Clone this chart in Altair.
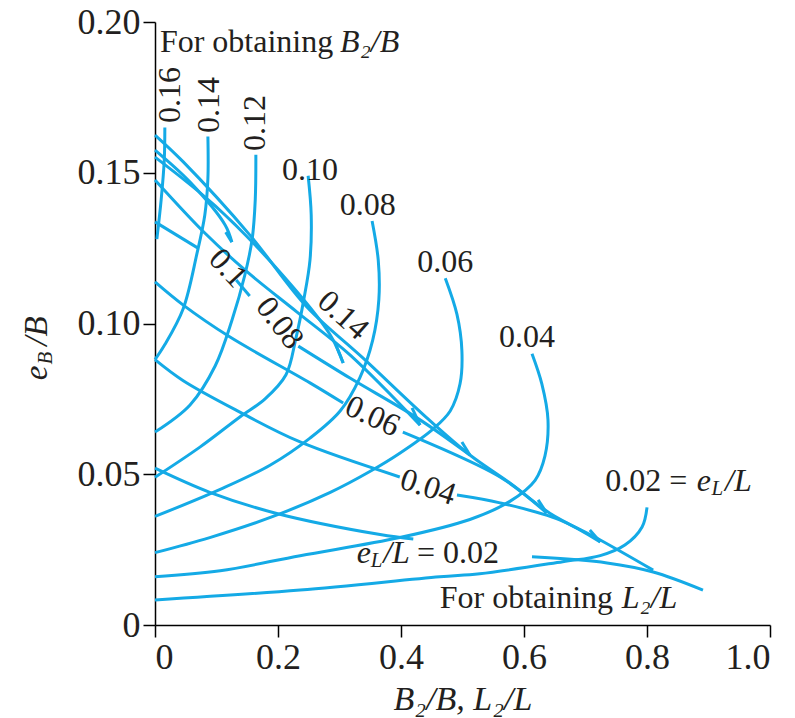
import altair as alt
import pandas as pd

# ---------------- Family "For obtaining B2/B" (labels = eL/L) ----------------
A016_x = [0.016, 0.015, 0.010, 0.003]
A016_y = [0.165, 0.154, 0.141, 0.128]
A014_x = [0.086, 0.086, 0.081, 0.068, 0.046, 0.016, 0.0]
A014_y = [0.162, 0.148, 0.136, 0.123, 0.105, 0.093, 0.088]
A012_x = [0.164, 0.163, 0.158, 0.146, 0.125, 0.098, 0.057, 0.0]
A012_y = [0.156, 0.141, 0.128, 0.116, 0.101, 0.086, 0.073, 0.064]
A010_x = [0.249, 0.254, 0.252, 0.242, 0.229, 0.213, 0.179, 0.138, 0.073, 0.0]
A010_y = [0.149, 0.136, 0.121, 0.108, 0.095, 0.083, 0.075, 0.069, 0.059, 0.049]
A008_x = [0.353, 0.363, 0.364, 0.354, 0.333, 0.301, 0.252, 0.187, 0.106, 0.0]
A008_y = [0.134, 0.121, 0.108, 0.0945, 0.082, 0.071, 0.062, 0.053, 0.045, 0.036]
A006_x = [0.472, 0.491, 0.499, 0.496, 0.480, 0.452, 0.398, 0.350, 0.285, 0.192, 0.089, 0.0]
A006_y = [0.115, 0.103, 0.091, 0.080, 0.071, 0.065, 0.057, 0.051, 0.044, 0.036, 0.029, 0.024]
A004_x = [0.613, 0.629, 0.639, 0.634, 0.618, 0.577, 0.512, 0.398, 0.236, 0.106, 0.0]
A004_y = [0.090, 0.080, 0.068, 0.056, 0.048, 0.041, 0.035, 0.029, 0.023, 0.018, 0.016]
A002_x = [0.800, 0.792, 0.764, 0.724, 0.663, 0.528, 0.463, 0.236, 0.0]
A002_y = [0.039, 0.0325, 0.0265, 0.023, 0.021, 0.017, 0.016, 0.0116, 0.0083]

# ---------------- Family "For obtaining L2/L" (labels = eL/L) ----------------
B002a_x = [0.0, 0.089, 0.198, 0.366, 0.420]
B002a_y = [0.052, 0.044, 0.037, 0.030, 0.0285]
B002b_x = [0.613, 0.735, 0.810, 0.891]
B002b_y = [0.0226, 0.0206, 0.0176, 0.0116]
B004a_x = [0.0, 0.046, 0.138, 0.236, 0.398]
B004a_y = [0.088, 0.081, 0.0706, 0.0607, 0.0491]
B004b_x = [0.491, 0.561, 0.659, 0.724]
B004b_y = [0.0431, 0.0405, 0.0348, 0.0275]
B006a_x = [0.0, 0.046, 0.122, 0.252, 0.306]
B006a_y = [0.1138, 0.1061, 0.0955, 0.0803, 0.0736]
B006b_x = [0.403, 0.561, 0.637]
B006b_y = [0.0640, 0.0491, 0.0371]
B008a_x = [0.0, 0.070]
B008a_y = [0.1337, 0.1250]
B008b_x = [0.132, 0.154]
B008b_y = [0.1144, 0.1091]
B008c_x = [0.233, 0.317, 0.426, 0.512]
B008c_y = [0.0925, 0.0819, 0.0687, 0.0564]
B010_x = [0.0, 0.081, 0.150, 0.231, 0.317, 0.431]
B010_y = [0.1476, 0.1300, 0.1171, 0.1038, 0.0896, 0.0663]
B012_x = [0.0, 0.098, 0.203, 0.285, 0.306]
B012_y = [0.1552, 0.1390, 0.1171, 0.0962, 0.0869]
B014_x = [0.0, 0.057, 0.114, 0.125]
B014_y = [0.1575, 0.1469, 0.1327, 0.1270]
ENV_x = [0.0, 0.046, 0.154, 0.247, 0.338, 0.442, 0.512, 0.577, 0.642, 0.724, 0.810]
ENV_y = [0.1625, 0.1536, 0.1294, 0.1055, 0.0886, 0.0687, 0.0564, 0.0471, 0.0371, 0.0282, 0.0182]
# short return hooks at the curve tips
H1_x = [0.125, 0.115]
H1_y = [0.1270, 0.1303]
H2_x = [0.306, 0.294]
H2_y = [0.0869, 0.0929]
H3_x = [0.431, 0.418]
H3_y = [0.0663, 0.0720]
H4_x = [0.512, 0.499]
H4_y = [0.0564, 0.0607]
H5_x = [0.637, 0.623]
H5_y = [0.0371, 0.0415]
H6_x = [0.724, 0.707]
H6_y = [0.0275, 0.0315]

curves = {
    "A016": (A016_x, A016_y), "A014": (A014_x, A014_y), "A012": (A012_x, A012_y),
    "A010": (A010_x, A010_y), "A008": (A008_x, A008_y), "A006": (A006_x, A006_y),
    "A004": (A004_x, A004_y), "A002": (A002_x, A002_y),
    "B002a": (B002a_x, B002a_y), "B002b": (B002b_x, B002b_y),
    "B004a": (B004a_x, B004a_y), "B004b": (B004b_x, B004b_y),
    "B006a": (B006a_x, B006a_y), "B006b": (B006b_x, B006b_y),
    "B008a": (B008a_x, B008a_y), "B008b": (B008b_x, B008b_y), "B008c": (B008c_x, B008c_y),
    "B010": (B010_x, B010_y), "B012": (B012_x, B012_y), "B014": (B014_x, B014_y),
    "ENV": (ENV_x, ENV_y),
    "H1": (H1_x, H1_y), "H2": (H2_x, H2_y), "H3": (H3_x, H3_y),
    "H4": (H4_x, H4_y), "H5": (H5_x, H5_y), "H6": (H6_x, H6_y),
}
rows = []
for name, (xs_, ys_) in curves.items():
    for i, (xv, yv) in enumerate(zip(xs_, ys_)):
        rows.append({"curve": name, "order": i, "x": xv, "y": yv})
df = pd.DataFrame(rows)

# ---------------- Labels ----------------
lab_center = pd.DataFrame({
    "x": [0.024, 0.088, 0.163, 0.252, 0.346, 0.472, 0.605,
          0.119, 0.203, 0.306, 0.354, 0.444],
    "y": [0.1758, 0.1725, 0.1665, 0.1509, 0.1393, 0.1204, 0.0955,
          0.1184, 0.1002, 0.1028, 0.0693, 0.0458],
    "text": ["0.16", "0.14", "0.12", "0.10", "0.08", "0.06", "0.04",
             "0.1", "0.08", "0.14", "0.06", "0.04"],
    "angle": [270, 270, 270, 0, 0, 0, 0, 47, 52, 42, 25, 18],
})
lab_left = pd.DataFrame({
    "x": [0.008, 0.732, 0.426, 0.463],
    "y": [0.1934, 0.0478, 0.0239, 0.0090],
    "text": ["For obtaining", "0.02 =", "= 0.02", "For obtaining"],
})
lab_italic = pd.DataFrame({
    "x": [0.301, 0.881, 0.927, 0.328, 0.371, 0.759],
    "y": [0.1934, 0.0478, 0.0478, 0.0239, 0.0239, 0.0090],
    "text": ["B\u2082/B", "e", "/L", "e", "/L", "L\u2082/L"],
})
lab_sub = pd.DataFrame({
    "x": [0.905, 0.351],
    "y": [0.0450, 0.0211],
    "text": ["L", "L"],
})

FONT = "Liberation Serif"
COLOR = "#14aae6"
TXT = "#231f20"
FS = 32

xs = alt.Scale(domain=[0, 1.0], nice=False)
ys = alt.Scale(domain=[0, 0.2], nice=False)

lines = alt.Chart(df).mark_line(color=COLOR, strokeWidth=3, interpolate="catmull-rom").encode(
    x=alt.X("x:Q", scale=xs, axis=alt.Axis(
        values=[0, 0.2, 0.4, 0.6, 0.8, 1.0],
        labelExpr="datum.value == 0 ? '0' : format(datum.value, '.1f')",
        title="B\u2082/B, L\u2082/L", titleFontStyle="italic", titleFont=FONT,
        titleFontSize=34, titleFontWeight="normal", titleColor=TXT, titlePadding=7)),
    y=alt.Y("y:Q", scale=ys, axis=alt.Axis(
        values=[0, 0.05, 0.10, 0.15, 0.20],
        labelExpr="datum.value == 0 ? '0' : format(datum.value, '.2f')",
        title=None)),
    detail="curve:N",
    order="order:Q",
)

t_c = alt.Chart(lab_center).mark_text(font=FONT, fontSize=FS, color=TXT, baseline="middle",
                                      align="center").encode(
    x=alt.X("x:Q", scale=xs), y=alt.Y("y:Q", scale=ys), text="text:N",
    angle=alt.Angle("angle:Q", scale=None))
t_l = alt.Chart(lab_left).mark_text(font=FONT, fontSize=FS, color=TXT, baseline="middle",
                                    align="left").encode(
    x=alt.X("x:Q", scale=xs), y=alt.Y("y:Q", scale=ys), text="text:N")
t_it = alt.Chart(lab_italic).mark_text(font=FONT, fontSize=FS, fontStyle="italic", color=TXT,
                                       baseline="middle", align="left").encode(
    x=alt.X("x:Q", scale=xs), y=alt.Y("y:Q", scale=ys), text="text:N")
t_sub = alt.Chart(lab_sub).mark_text(font=FONT, fontSize=21, fontStyle="italic", color=TXT,
                                     baseline="middle", align="left").encode(
    x=alt.X("x:Q", scale=xs), y=alt.Y("y:Q", scale=ys), text="text:N")

ytitle = pd.DataFrame({"px": [-118, -109, -118], "py": [351, 336, 309],
                       "text": ["e", "B", "/B"], "size": [33, 21, 33]})
t_ytitle = alt.Chart(ytitle).mark_text(font=FONT, fontStyle="italic", color=TXT, angle=270,
                                       baseline="middle", align="center").encode(
    x=alt.X("px:Q", scale=None), y=alt.Y("py:Q", scale=None), text="text:N",
    size=alt.Size("size:Q", scale=None))

chart = alt.layer(lines, t_c, t_l, t_it, t_sub, t_ytitle).properties(
    width=615, height=603,
    autosize=alt.AutoSizeParams(type="none"),
    padding={"left": 155, "top": 22, "right": 25, "bottom": 93},
    background="white",
).configure_view(stroke=None).configure_axis(
    grid=False, domainColor="black", tickColor="black", domainWidth=1.5, tickWidth=1.5,
    tickSize=12, labelFont=FONT, labelFontSize=36, labelColor=TXT, labelPadding=3,
)

chart.save("out.html", embed_options={"renderer": "svg", "actions": False})
